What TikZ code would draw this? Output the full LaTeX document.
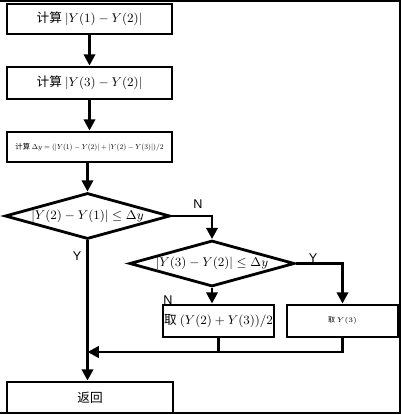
\documentclass[tikz,border=0pt]{standalone}
\usepackage{amsmath}
\usepackage{fontspec}
\setmainfont{Liberation Serif}
\newfontfamily\cjk{Noto Sans CJK SC}
\newfontfamily\labelfont{Liberation Sans}
\usetikzlibrary{shapes.geometric, arrows.meta, positioning}

\tikzset{
	flowbox/.style={
			draw=black,
			line width=2pt,
			fill=white,
			inner sep=0pt,
			font=\small
		},
	flowdiamond/.style={
			shape=diamond,
			draw=black,
			line width=2pt,
			fill=white,
			aspect=3.6,
			inner sep=0pt,
			minimum width=4.125cm,
			minimum height=1.15cm,
			font=\small
		},
	flowline/.style={
			line width=2pt,
			-{Triangle[width=8pt,length=8pt]}
		},
	plainline/.style={
			line width=2pt
		}
}
\tikzset{
	yntext/.style={font=\labelfont\small}
}

\begin{document}
\begin{tikzpicture}[x=0.025cm, y=-0.025cm]

              \useasboundingbox (0,0) rectangle (401,415);
              \draw[line width=0.8pt] (0,1) -- (400,1) -- (400,413) -- (0,413);

              \node[flowbox, minimum width=4.125cm, minimum height=0.75cm] (b1) at (89.5,19) {{\cjk 计算} $\left|Y(1)-Y(2)\right|$};
              \node[flowbox, minimum width=4.125cm, minimum height=0.8cm] (b2) at (89.5,83) {{\cjk 计算} $\left|Y(3)-Y(2)\right|$};
              \node[flowbox, minimum width=4.125cm, minimum height=0.75cm] (b3) at (89.5,147) {\resizebox{3.7cm}{!}{{\cjk 计算} $\Delta y=(\left|Y(1)-Y(2)\right|+\left|Y(2)-Y(3)\right|)/2$}};
              \node[flowdiamond] (d1) at (87.5,216) {$\left|Y(2)-Y(1)\right|\le\Delta y$};
              \node[flowdiamond] (d2) at (212,263.5) {$\left|Y(3)-Y(2)\right|\le\Delta y$};
              \node[flowbox, minimum width=2.775cm, minimum height=0.8cm] (b4) at (218.5,321) {{\cjk 取} $(Y(2)+Y(3))/2$};
              \node[flowbox, minimum width=2.775cm, minimum height=0.8cm, font=\tiny] (b5) at (342.5,321) {{\cjk 取} $Y(3)$};
              \node[flowbox, minimum width=4.15cm, minimum height=0.775cm] (b6) at (90,397.5) {\cjk 返回};

              \node[yntext] (n1) at (198,204) {N};
              \node[yntext] (y1) at (77,256) {Y};
              \node[yntext] (y2) at (313,258) {Y};
              \node[yntext] (n2) at (168,300) {N};

              \coordinate (merge) at (d1.south |- 0,352);

              \draw[flowline] (b1) -- (b2);
              \draw[flowline] (b2) -- (b3);
              \draw[flowline] (b3.south -| d1.north) -- (d1.north);
              \draw[flowline] (d1.east) -| (d2.north);
              \draw[flowline] (d2.east) -| (b5.north);
              \draw[flowline] (d2.south) -- (d2.south |- b4.north);
              \draw[flowline] (d1.south) -- (d1.south |- b6.north);
              \draw[flowline] (b5.south) |- (merge);
              \draw[plainline] (b4.south) -- (b4.south |- merge);
            \end{tikzpicture}
\end{document}
